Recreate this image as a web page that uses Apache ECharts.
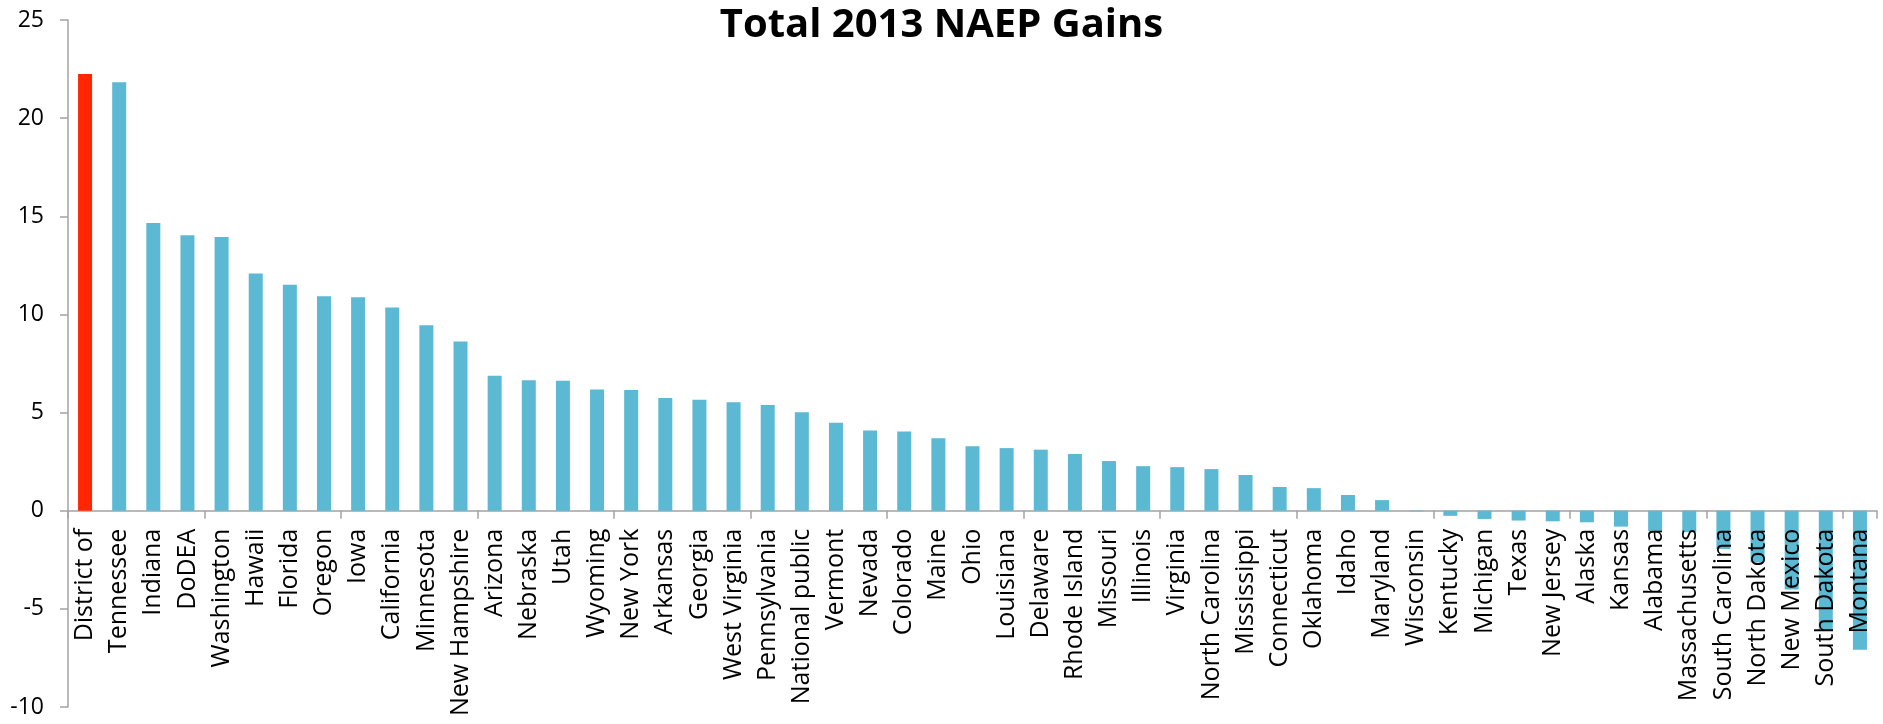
<!DOCTYPE html>
<html>
<head>
<meta charset="utf-8">
<style>
  html, body { margin: 0; padding: 0; background: #ffffff; }
  #chart { width: 1883px; height: 724px; }
</style>
<script src="https://cdn.jsdelivr.net/npm/echarts@6/dist/echarts.min.js"></script>
</head>
<body>
<div id="chart"></div>
<script>
const titleText = 'Total 2013 NAEP Gains';

const categories = [
  'District of', 'Tennessee', 'Indiana', 'DoDEA', 'Washington', 'Hawaii', 'Florida',
  'Oregon', 'Iowa', 'California', 'Minnesota', 'New Hampshire', 'Arizona', 'Nebraska',
  'Utah', 'Wyoming', 'New York', 'Arkansas', 'Georgia', 'West Virginia', 'Pennsylvania',
  'National public', 'Vermont', 'Nevada', 'Colorado', 'Maine', 'Ohio', 'Louisiana',
  'Delaware', 'Rhode Island', 'Missouri', 'Illinois', 'Virginia', 'North Carolina',
  'Mississippi', 'Connecticut', 'Oklahoma', 'Idaho', 'Maryland', 'Wisconsin', 'Kentucky',
  'Michigan', 'Texas', 'New Jersey', 'Alaska', 'Kansas', 'Alabama', 'Massachusetts',
  'South Carolina', 'North Dakota', 'New Mexico', 'South Dakota', 'Montana'
];

const gains = [
  22.25, 21.83, 14.66, 14.04, 13.95, 12.08, 11.51,
  10.93, 10.88, 10.35, 9.45, 8.62, 6.88, 6.65,
  6.62, 6.18, 6.15, 5.74, 5.65, 5.52, 5.38,
  5.02, 4.48, 4.09, 4.04, 3.69, 3.29, 3.19,
  3.11, 2.89, 2.53, 2.27, 2.22, 2.12,
  1.82, 1.21, 1.15, 0.80, 0.54, -0.03, -0.26,
  -0.42, -0.50, -0.54, -0.59, -0.81, -1.04, -1.09,
  -1.95, -2.63, -4.01, -6.11, -7.08
];

const highlighted = ['District of'];

const yMin = -10, yMax = 25, yStep = 5;

const RED = '#FF2600';
const BLUE = '#5BB9D3';
const AXIS = '#A3A3A3';
const FONT = '"Open Sans", sans-serif';

// geometry of the plot
const GRID_LEFT = 68, GRID_RIGHT = 6, GRID_TOP = 20, GRID_BOTTOM = 17;
const H = 724;
// pixel position of the zero line, derived from the value scale
const zeroY = GRID_TOP + (H - GRID_TOP - GRID_BOTTOM) * (yMax - 0) / (yMax - yMin);

const chart = echarts.init(document.getElementById('chart'), null, { renderer: 'canvas' });
chart.setOption({
  animation: false,
  backgroundColor: '#ffffff',
  title: {
    text: titleText,
    left: 'center',
    top: 1,
    textStyle: { fontFamily: FONT, fontWeight: 'bold', fontSize: 40, color: '#000000' }
  },
  grid: [
    { left: GRID_LEFT, right: GRID_RIGHT, top: GRID_TOP, bottom: GRID_BOTTOM, outerBoundsMode: 'none' },
    { left: GRID_LEFT, right: GRID_RIGHT, top: GRID_TOP, bottom: H - zeroY, outerBoundsMode: 'none' }
  ],
  xAxis: [
    {
      type: 'category',
      gridIndex: 0,
      data: categories,
      boundaryGap: true,
      axisLine: { onZero: true, lineStyle: { color: AXIS, width: 1.5 } },
      axisTick: { show: true, alignWithLabel: false, length: 8, inside: false, lineStyle: { color: AXIS, width: 1.5 } },
      axisLabel: { show: false },
      splitLine: { show: false }
    },
    {
      type: 'category',
      gridIndex: 1,
      position: 'bottom',
      data: categories,
      boundaryGap: true,
      z: 10,
      axisLine: { show: false },
      axisTick: { show: false },
      axisLabel: {
        interval: 0,
        rotate: 90,
        margin: 18,
        fontFamily: FONT,
        fontSize: 25,
        color: '#000000'
      },
      splitLine: { show: false }
    }
  ],
  yAxis: [
    {
      type: 'value',
      gridIndex: 0,
      min: yMin,
      max: yMax,
      interval: yStep,
      axisLine: { show: true, onZero: false, lineStyle: { color: AXIS, width: 1.5 } },
      axisTick: { show: true, length: 8, lineStyle: { color: AXIS, width: 1.5 } },
      axisLabel: { margin: 24, fontFamily: FONT, fontSize: 23, color: '#000000' },
      splitLine: { show: false }
    },
    {
      type: 'value',
      gridIndex: 1,
      show: false
    }
  ],
  series: [{
    type: 'bar',
    xAxisIndex: 0,
    yAxisIndex: 0,
    data: gains,
    barWidth: 14,
    z: 1,
    itemStyle: {
      color: function (p) { return highlighted.indexOf(categories[p.dataIndex]) >= 0 ? RED : BLUE; }
    }
  }]
});
</script>
</body>
</html>
